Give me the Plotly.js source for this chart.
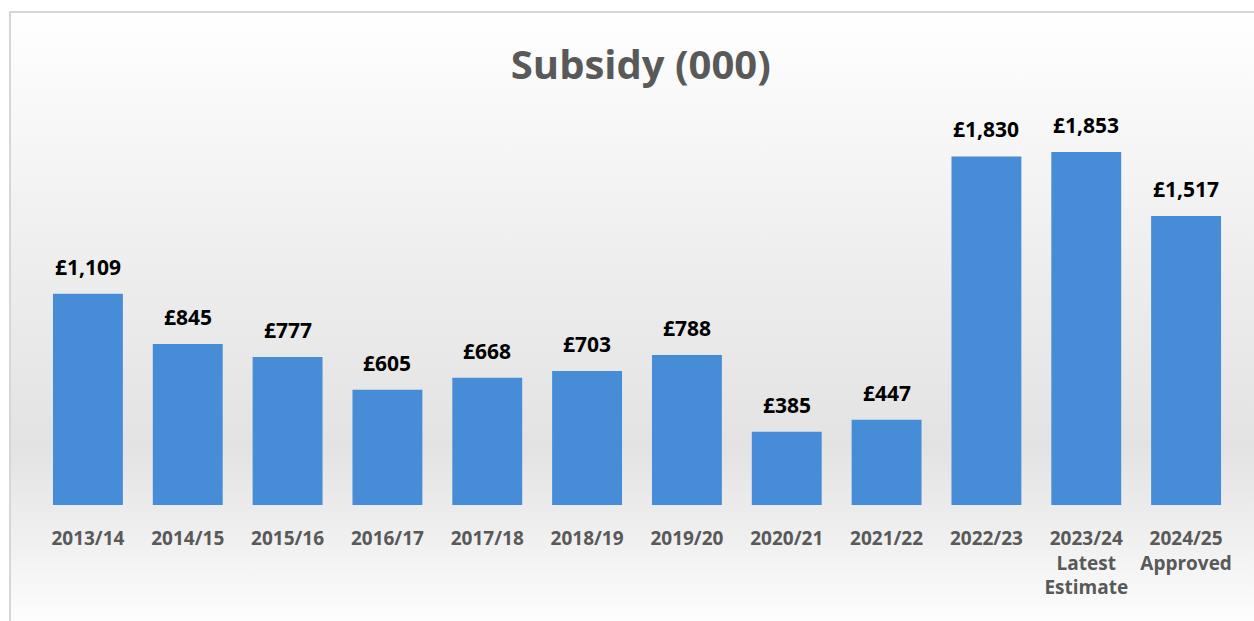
<!DOCTYPE html>
<html>
<head>
<meta charset="utf-8">
<script src="https://cdn.plot.ly/plotly-3.0.1.min.js"></script>
<style>
  html, body { margin: 0; padding: 0; background: #ffffff; }
  #frame {
    position: absolute; left: 9px; top: 11px; width: 1260px; height: 620px;
    border-left: 2px solid #d6d6d6; border-top: 2px solid #d6d6d6;
    background: linear-gradient(to bottom, #ffffff 0%, #f8f8f8 16%, #ededed 42%, #e3e3e3 70%, #f0f0f0 85%, #ffffff 100%);
  }
  #chart { position: absolute; left: 0; top: 0; width: 1254px; height: 621px; }
</style>
</head>
<body>
<div id="frame"></div>
<div id="chart"></div>
<script>
const categories = ["2013/14", "2014/15", "2015/16", "2016/17", "2017/18", "2018/19", "2019/20", "2020/21", "2021/22", "2022/23", "2023/24<br>Latest<br>Estimate", "2024/25<br>Approved"];
const subsidy = [1109, 845, 777, 605, 668, 703, 788, 385, 447, 1830, 1853, 1517];
const labels = subsidy.map(v => "£" + v.toLocaleString("en-GB"));

const trace = {
  type: "bar",
  x: categories,
  y: subsidy,
  marker: { color: "#468cd7", line: { width: 0 } },
  hoverinfo: "skip"
};

const annotations = categories.map((c, i) => ({
  x: c, y: subsidy[i], xref: "x", yref: "y",
  text: "<b>" + labels[i] + "</b>",
  showarrow: false, xanchor: "center", yanchor: "bottom", yshift: 11,
  font: { family: "Open Sans", size: 21, color: "#000000" }
}));

const layout = {
  width: 1254, height: 621,
  paper_bgcolor: "rgba(0,0,0,0)",
  plot_bgcolor: "rgba(0,0,0,0)",
  margin: { l: 38, r: 18, t: 100, b: 116 },
  bargap: 0.3,
  showlegend: false,
  annotations: annotations,
  title: {
    text: "<b>Subsidy (000)</b>",
    x: 0.511, xanchor: "center", y: 0.895, yanchor: "middle",
    font: { family: "Open Sans", size: 40, color: "#595959" }
  },
  xaxis: {
    type: "category",
    showgrid: false, zeroline: false, showline: false,
    ticks: "", ticklen: 0, ticklabelstandoff: 20,
    tickfont: { family: "Open Sans", size: 19, color: "#595959", weight: "bold" }
  },
  yaxis: {
    range: [0, 2126],
    visible: false,
    showgrid: false, zeroline: false
  }
};

Plotly.newPlot("chart", [trace], layout, { displayModeBar: false, staticPlot: true });
</script>
</body>
</html>
